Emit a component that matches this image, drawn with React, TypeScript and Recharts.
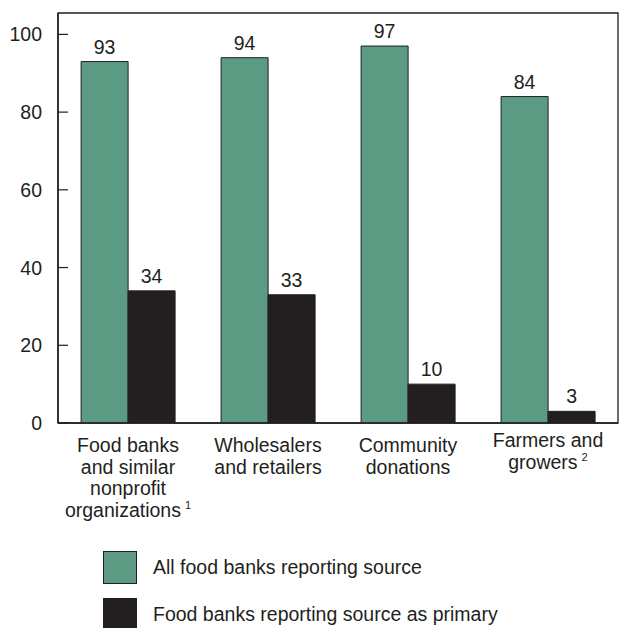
import React from "react";
import {
  BarChart,
  Bar,
  XAxis,
  YAxis,
  LabelList,
  Legend,
  ReferenceArea,
} from "recharts";

// categories, with the line breaks used under the axis
const categories = [
  "Food banks and similar nonprofit organizations",
  "Wholesalers and retailers",
  "Community donations",
  "Farmers and growers",
];
const categoryLines = [
  ["Food banks", "and similar", "nonprofit", "organizations"],
  ["Wholesalers", "and retailers"],
  ["Community", "donations"],
  ["Farmers and", "growers"],
];
const footnotes = ["1", "", "", "2"];

const allReporting = [93, 94, 97, 84];
const primarySource = [34, 33, 10, 3];

const seriesNames = [
  "All food banks reporting source",
  "Food banks reporting source as primary",
];

const yTicks = [0, 20, 40, 60, 80, 100];

const data = categories.map((c, i) => ({
  name: c,
  all: allReporting[i],
  primary: primarySource[i],
}));

const INK = "#231f20";
const GREEN = "#5b9a83";
const FONT = "'Liberation Sans', Arial, Helvetica, sans-serif";
const FS = 19.5;
// the last label sits a little higher in the original
const labelRaise = [0, 0, 0, 5];

const YTick = (props: any) => {
  const { x, y, payload } = props;
  return (
    <g>
      <line x1={x} x2={x + 10} y1={y} y2={y} stroke={INK} strokeWidth={1.2} />
      <text
        x={x - 16}
        y={y}
        dy={7}
        textAnchor="end"
        fontSize={FS}
        fontFamily={FONT}
        fill={INK}
      >
        {payload.value}
      </text>
    </g>
  );
};

const XTick = (props: any) => {
  const { x, y, index } = props;
  const lines = categoryLines[index] || [];
  const note = footnotes[index];
  const top = y + 29 - (labelRaise[index] || 0);
  return (
    <g>
      {lines.map((ln, i) => (
        <text
          key={i}
          x={x}
          y={top + i * 21.5}
          textAnchor="middle"
          fontSize={FS}
          fontFamily={FONT}
          fill={INK}
        >
          {ln}
          {i === lines.length - 1 && note ? (
            <tspan dx={4} dy={-8} fontSize={11}>
              {note}
            </tspan>
          ) : null}
        </text>
      ))}
    </g>
  );
};

const LegendBox = (props: any) => {
  const { payload = [] } = props;
  return (
    <div style={{ fontFamily: FONT, fontSize: FS, color: INK }}>
      {payload.map((p: any, i: number) => (
        <div
          key={i}
          style={{
            position: "absolute",
            left: 103,
            top: i * 47,
            display: "flex",
            alignItems: "center",
            whiteSpace: "nowrap",
          }}
        >
          <div
            style={{
              width: 32,
              height: 31,
              background: p.color,
              border: `1px solid ${INK}`,
              marginRight: 16,
            }}
          />
          <span>{p.value}</span>
        </div>
      ))}
    </div>
  );
};

export default function App() {
  return (
    <div style={{ position: "absolute", left: 0, top: 0, fontFamily: FONT }}>
      <BarChart
        width={620}
        height={628}
        data={data}
        margin={{ top: 13, right: 2, bottom: 0, left: 0 }}
        barCategoryGap="16.5%"
        barGap={0}
      >
        <XAxis
          dataKey="name"
          height={205}
          interval={0}
          tickLine={false}
          tickSize={0}
          tickMargin={0}
          axisLine={{ stroke: INK, strokeWidth: 1.5 }}
          tick={(p: any) => <XTick {...p} />}
        />
        <YAxis
          width={58}
          domain={[0, 105.5]}
          ticks={yTicks}
          allowDataOverflow
          tickLine={false}
          tickSize={0}
          tickMargin={0}
          axisLine={{ stroke: INK, strokeWidth: 1.5 }}
          tick={(p: any) => <YTick {...p} />}
        />
        <ReferenceArea
          y1={0}
          y2={105.5}
          fill="none"
          stroke={INK}
          strokeWidth={1.3}
        />
        <Legend
          layout="horizontal"
          verticalAlign="middle"
          align="center"
          wrapperStyle={{ position: "absolute", left: 0, top: 551, width: 620 }}
          content={(p: any) => <LegendBox {...p} />}
        />
        <Bar
          dataKey="all"
          name={seriesNames[0]}
          fill={GREEN}
          stroke={INK}
          strokeWidth={1}
          isAnimationActive={false}
        >
          <LabelList
            dataKey="all"
            position="top"
            offset={8}
            fill={INK}
            fontSize={FS}
            fontFamily={FONT}
          />
        </Bar>
        <Bar
          dataKey="primary"
          name={seriesNames[1]}
          fill={INK}
          stroke={INK}
          strokeWidth={1}
          isAnimationActive={false}
        >
          <LabelList
            dataKey="primary"
            position="top"
            offset={8}
            fill={INK}
            fontSize={FS}
            fontFamily={FONT}
          />
        </Bar>
      </BarChart>
    </div>
  );
}
